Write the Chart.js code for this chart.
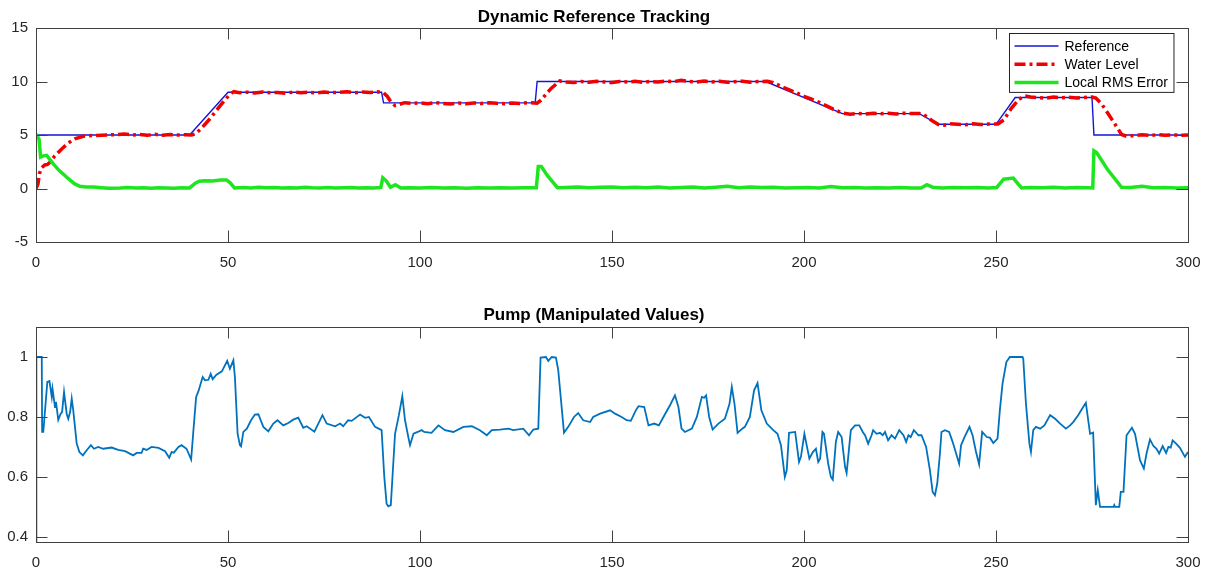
<!DOCTYPE html>
<html>
<head>
<meta charset="utf-8">
<title>Dynamic Reference Tracking</title>
<script src="https://cdn.jsdelivr.net/npm/chart.js@4.4.1/dist/chart.umd.min.js"></script>
<style>
  html, body { margin: 0; padding: 0; background: #fff; }
  .panel { position: absolute; left: 0; width: 1213px; }
  #topPanel { top: 0; height: 285px; }
  #pumpPanel { top: 285px; height: 286px; }
</style>
</head>
<body>
<div class="panel" id="topPanel"><canvas id="trackChart"></canvas></div>
<div class="panel" id="pumpPanel"><canvas id="pumpChart"></canvas></div>
<script>
/* two stacked MATLAB-style subplots: tracking + pump signal */

// ── DATA ───────────────────────────────────────────────────────
const xTicks     = [0, 50, 100, 150, 200, 250, 300];
const trackTicks = [-5, 0, 5, 10, 15];
const pumpTicks  = [0.4, 0.6, 0.8, 1];

const seriesNames = ['Reference', 'Water Level', 'Local RMS Error'];

// reference set-point (breakpoints of the piecewise profile)
const timeRef  = [0, 40, 50, 90, 90.5, 130, 130.5, 190, 210, 230, 235, 250, 255, 275, 275.5, 300];
const refLevel = [5, 5, 9, 9, 8, 8, 10, 10, 7, 7, 6, 6, 8.5, 8.5, 5, 5];

// measured water level
const timeLevel = [0, 0.5, 0.9, 1.5, 2.3, 3, 3.6, 4.9, 6.7, 8.4, 10.1, 12.3, 14.5, 17, 20, 23, 25, 27, 29, 31, 33, 35, 37, 39,
  40.5, 41.5, 43, 45, 47, 49, 50.5, 51.5, 53, 55, 57, 59, 61, 63, 65, 67, 69, 71, 73, 75, 77, 79, 81, 83, 85, 87, 89,
  90.5, 91.5, 92.5, 93.5, 94.5, 96, 98, 100, 102, 104, 106, 108, 110, 112, 114, 116, 118, 120, 122, 124, 126, 128,
  130.5, 131.5, 134, 136.4, 138, 140, 142, 144, 146, 148, 150, 152, 154, 156, 158, 160, 162, 164, 166, 168, 170, 172,
  174, 176, 178, 180, 182, 184, 186, 188, 190.5, 192, 194, 196, 198, 200, 202, 204, 206, 208, 210, 212, 214, 216, 218,
  220, 222, 224, 226, 228, 230, 231, 232, 233.5, 235, 236.5, 238, 240, 242, 244, 246, 248, 250.5, 252, 254, 256, 257.5,
  259, 261, 263, 265, 267, 269, 271, 273, 275, 276, 277.5, 279, 281, 282.7, 284, 286, 288, 290, 292, 294, 296, 298, 300];
const waterLevel = [0, 0.4, 1.4, 1.95, 2.2, 2.25, 2.45, 3.05, 3.7, 4.25, 4.65, 4.88, 4.95, 4.98, 5.02, 5.1, 5.0, 5.05, 4.97, 5.06, 4.98, 5.04, 5.0, 5.02,
  5.0, 5.1, 5.6, 6.4, 7.3, 8.2, 8.8, 9.05, 8.95, 9.0, 8.92, 9.02, 8.95, 8.98, 8.9, 9.02, 8.94, 9.0, 8.92, 9.02, 8.96, 8.98, 9.03, 8.95, 9.02, 8.98, 9.03,
  8.95, 8.6, 8.05, 7.75, 7.85, 8.02, 7.95, 8.0, 7.92, 8.03, 7.95, 7.9, 7.98, 7.92, 8.0, 7.94, 8.02, 7.96, 7.92, 8.0, 7.95, 8.02,
  7.98, 8.25, 9.3, 10.05, 9.95, 9.9, 10.0, 9.92, 10.02, 9.95, 9.9, 10.0, 9.95, 10.02, 9.93, 10.0, 9.96, 10.05, 9.98, 10.12, 10.0, 9.95,
  10.04, 9.96, 10.02, 9.92, 9.98, 10.03, 9.94, 10.0, 10.02, 9.9, 9.55, 9.25, 8.95, 8.6, 8.35, 8.05, 7.7, 7.35, 7.05, 6.95, 7.02, 6.95, 7.04,
  6.98, 7.03, 6.96, 7.04, 7.0, 7.02, 6.95, 6.7, 6.3, 5.98, 5.92, 6.05, 6.0, 5.95, 6.04, 5.98, 6.02, 6.03, 6.4, 7.5, 8.35, 8.65,
  8.55, 8.5, 8.45, 8.55, 8.48, 8.52, 8.45, 8.5, 8.55, 8.45, 7.9, 7.1, 6.0, 5.05, 4.88, 4.95, 5.02, 4.96, 5.03, 4.97, 5.02, 4.98, 5.0];

// local RMS tracking error
const timeErr = [0, 0.8, 1.2, 1.9, 2.8, 4.5, 6, 8, 10, 11.4, 13, 15, 17, 19, 22, 24, 26, 28, 30, 32, 34, 36, 38, 40,
  41.5, 42.5, 44, 46, 48, 49.6, 50.5, 51.7, 54, 56, 58, 60, 62, 64, 66, 68, 70, 72, 74, 76, 78, 80, 82, 84, 86, 88,
  89.8, 90.3, 91.2, 92.3, 93.6, 95, 97, 100, 103, 106, 109, 112, 115, 118, 121, 124, 127, 130.3, 130.8, 131.6, 133.2,
  135.8, 138, 141, 144, 147, 150, 153, 156, 159, 162, 165, 168, 171, 174, 177, 180, 183, 186, 189, 192, 195, 198, 201,
  204, 207, 210, 213, 216, 219, 222, 225, 228, 230.5, 232, 233.5, 236, 239, 242, 245, 248, 250.2, 252, 254.5, 255.8,
  256.7, 259, 262, 265, 268, 271, 274, 275.2, 275.5, 276.2, 279, 282.7, 285, 288, 291, 294, 297, 300];
const rmsError = [5.1, 4.6, 2.95, 3.05, 3.1, 2.3, 1.7, 1.05, 0.45, 0.2, 0.15, 0.14, 0.08, 0.03, 0.05, 0.1, 0.04, 0.06, 0.02, 0.07, 0.05, 0.03, 0.06, 0.05,
  0.5, 0.68, 0.72, 0.7, 0.8, 0.8, 0.55, 0.05, 0.1, 0.05, 0.12, 0.06, 0.1, 0.05, 0.08, 0.04, 0.12, 0.06, 0.04, 0.1, 0.05, 0.08, 0.1, 0.04, 0.08, 0.05,
  0.1, 1.0, 0.72, 0.12, 0.35, 0.05, 0.08, 0.05, 0.1, 0.04, 0.06, 0.02, 0.07, 0.05, 0.08, 0.05, 0.07, 0.06, 2.05, 2.05, 1.2,
  0.08, 0.1, 0.15, 0.08, 0.12, 0.15, 0.06, 0.12, 0.08, 0.15, 0.05, 0.1, 0.15, 0.05, 0.12, 0.2, 0.08, 0.15, 0.1, 0.12, 0.05, 0.08, 0.1,
  0.05, 0.18, 0.06, 0.1, 0.05, 0.08, 0.04, 0.1, 0.05, 0.05, 0.35, 0.12, 0.05, 0.1, 0.06, 0.1, 0.05, 0.1, 0.87, 0.97, 0.4,
  0.05, 0.1, 0.06, 0.12, 0.05, 0.1, 0.06, 0.05, 3.52, 3.36, 1.8, 0.12, 0.1, 0.2, 0.06, 0.1, 0.05, 0.08];

// pump manipulated value
const timePump = [0, 0.1, 1.5, 1.6, 1.9, 2.95, 3.5, 4.1, 4.3, 4.95, 5.2, 5.8, 6.4, 6.8, 7.3, 8.0, 8.4, 8.9, 9.3, 9.7,
  10.6, 11.3, 12.2, 13.2, 14.3, 15.1, 16.2, 17.5, 19.7, 21.4, 23.2, 25.3, 26.2, 27.5, 27.9, 28.8, 30.1, 31.9, 33.6,
  34.7, 35.3, 35.9, 37.1, 37.9, 39.2, 40.4, 41, 41.7, 42.3, 43.4, 44, 44.9, 45.5, 46, 47, 48.4, 49.8, 50.5, 51.4, 51.8,
  52.5, 53.1, 53.4, 54, 54.9, 56, 57, 57.9, 59.2, 60.5, 61.8, 62.9, 64.4, 65.7, 67, 68.3, 69.6, 70.5, 72.5, 74.6, 75.7,
  77.9, 79.2, 80, 81.3, 82.2, 84.4, 85.7, 86.7, 88.3, 90, 90.7, 91.3, 91.75, 92.4, 93.5, 94.5, 95.4, 96.1, 96.96, 97.4,
  98.3, 99.4, 100.4, 101.1, 103, 104.8, 106.5, 108.7, 111.3, 113.5, 115.6, 117.4, 118.7, 120.8, 123, 124.3, 126.9,
  128.4, 129.5, 130.8, 131.4, 132.8, 133.4, 134.3, 135.4, 136, 137.5, 138.6, 140.1, 141.2, 142.5, 144.3, 145.1, 146.9,
  149.5, 150.8, 152.5, 153.8, 154.9, 156.2, 156.9, 158.4, 159.5, 161, 162.2, 163.4, 165.1, 166.4, 167.3, 168.1, 169,
  170.8, 172.1, 173.4, 174, 174.5, 175.3, 176.2, 177.7, 179.4, 180.6, 181.2, 181.9, 182.7, 183.9, 184.6, 185.9, 187,
  187.9, 188.9, 190.3, 192, 193.1, 194, 195, 195.5, 196.1, 197.7, 198.7, 199.2, 200.1, 201.4, 202.3, 203.1, 203.7,
  204.2, 204.8, 205.2, 206.3, 207, 207.5, 208.3, 208.9, 209.8, 210.7, 211.1, 212.2, 213.3, 214.4, 215.3, 215.9, 216.7,
  217.6, 218, 218.9, 219.8, 220.5, 221.1, 221.9, 222.8, 223.7, 224.8, 225.9, 226.6, 227.2, 227.8, 228.6, 229.8, 230.6,
  231.8, 232.8, 233.5, 234.1, 234.7, 235.4, 235.8, 236.7, 237.8, 238.7, 239.5, 240.4, 240.9, 241.8, 243.1, 243.9,
  244.8, 245.6, 246.4, 247.6, 248.4, 249.3, 250.4, 251, 251.7, 252.7, 253.6, 256.9, 257.1, 257.8, 258.7, 259.1, 259.7,
  260.4, 261.5, 262.6, 264.1, 265.4, 266.7, 268.2, 269.3, 270.1, 271.4, 272.7, 273.4, 274.5, 275.3, 276, 276.5, 277.1,
  280.6, 280.8, 281, 282.1, 282.5, 283.2, 284, 285.4, 286.2, 287.5, 288.5, 289.2, 290.1, 291, 291.8, 292.5, 293.4,
  294.3, 294.9, 295.5, 296, 296.9, 297.9, 299.2, 300];
const pumpValue = [0.383, 1.0, 1.0, 0.75, 0.75, 0.917, 0.92, 0.867, 0.894, 0.833, 0.85, 0.79, 0.81, 0.817, 0.883, 0.81, 0.794, 0.817, 0.861, 0.822,
  0.711, 0.683, 0.672, 0.689, 0.706, 0.694, 0.7, 0.694, 0.698, 0.69, 0.686, 0.672, 0.68, 0.68, 0.694, 0.69, 0.7, 0.697, 0.686,
  0.664, 0.683, 0.681, 0.7, 0.706, 0.694, 0.658, 0.756, 0.867, 0.886, 0.933, 0.922, 0.924, 0.944, 0.926, 0.941, 0.952, 0.987, 0.961, 0.989, 0.933,
  0.744, 0.706, 0.702, 0.75, 0.761, 0.789, 0.808, 0.809, 0.767, 0.752, 0.778, 0.789, 0.772, 0.78, 0.791, 0.798, 0.764, 0.769, 0.751, 0.806, 0.778,
  0.769, 0.778, 0.769, 0.789, 0.787, 0.808, 0.797, 0.8, 0.767, 0.756, 0.6, 0.511, 0.502, 0.506, 0.744, 0.806, 0.869, 0.789, 0.733, 0.706,
  0.744, 0.75, 0.756, 0.75, 0.747, 0.772, 0.756, 0.75, 0.767, 0.769, 0.756, 0.739, 0.756, 0.758, 0.761, 0.756, 0.761,
  0.739, 0.758, 0.761, 0.998, 1.0, 0.987, 1.0, 0.998, 0.956, 0.747, 0.767, 0.8, 0.813, 0.789, 0.783, 0.8, 0.811,
  0.822, 0.811, 0.8, 0.789, 0.787, 0.822, 0.836, 0.833, 0.772, 0.778, 0.772, 0.8, 0.839, 0.872, 0.833, 0.761, 0.75,
  0.761, 0.8, 0.867, 0.864, 0.872, 0.8, 0.758, 0.778, 0.794, 0.844, 0.9, 0.844, 0.747, 0.761, 0.767, 0.8, 0.889,
  0.913, 0.822, 0.778, 0.756, 0.744, 0.706, 0.6, 0.622, 0.747, 0.75, 0.65, 0.667, 0.744, 0.661, 0.683, 0.694, 0.65,
  0.661, 0.75, 0.744, 0.644, 0.6, 0.591, 0.717, 0.75, 0.733, 0.633, 0.613, 0.756, 0.772, 0.772, 0.75, 0.739, 0.711,
  0.739, 0.756, 0.744, 0.747, 0.739, 0.75, 0.722, 0.739, 0.728, 0.756, 0.739, 0.717, 0.739, 0.733, 0.756, 0.739, 0.739,
  0.7, 0.622, 0.55, 0.539, 0.578, 0.678, 0.75, 0.756, 0.75, 0.717, 0.683, 0.644, 0.706, 0.733, 0.767, 0.739,
  0.683, 0.642, 0.75, 0.733, 0.731, 0.713, 0.728, 0.822, 0.911, 0.983, 1.0, 1.0, 0.994, 0.844, 0.711, 0.683, 0.756,
  0.767, 0.761, 0.772, 0.806, 0.794, 0.778, 0.761, 0.772, 0.783, 0.806, 0.833, 0.847, 0.744, 0.748, 0.506, 0.556, 0.5,
  0.5, 0.506, 0.5, 0.5, 0.55, 0.55, 0.739, 0.764, 0.744, 0.656, 0.628, 0.678, 0.725, 0.703, 0.694, 0.678, 0.703,
  0.68, 0.7, 0.698, 0.722, 0.711, 0.697, 0.667, 0.683];

// ── STYLE ──────────────────────────────────────────────────────
const AXIS_COLOR = '#404040';
const TEXT_COLOR = '#262626';
const TICK_LEN   = 11.5;
const PLOT_LEFT  = 36;
const PLOT_RIGHT_PAD = 25;

Chart.defaults.font.family = '"Liberation Sans", Arial, Helvetica, sans-serif';
Chart.defaults.color = TEXT_COLOR;

const toPoints = (xs, ys) => xs.map((x, i) => ({ x, y: ys[i] }));

// inward tick marks on all four sides + box (MATLAB look)
const matlabBox = {
  id: 'matlabBox',
  afterDatasetsDraw(chart) {
    const { ctx, chartArea: a, scales } = chart;
    ctx.save();
    ctx.strokeStyle = AXIS_COLOR;
    ctx.lineWidth = 1;
    ctx.beginPath();
    scales.x.ticks.forEach(t => {
      const px = Math.round(scales.x.getPixelForValue(t.value)) + 0.5;
      ctx.moveTo(px, a.bottom); ctx.lineTo(px, a.bottom - TICK_LEN);
      ctx.moveTo(px, a.top);    ctx.lineTo(px, a.top + TICK_LEN);
    });
    scales.y.ticks.forEach(t => {
      const py = Math.round(scales.y.getPixelForValue(t.value)) + 0.5;
      ctx.moveTo(a.left, py);  ctx.lineTo(a.left + TICK_LEN, py);
      ctx.moveTo(a.right, py); ctx.lineTo(a.right - TICK_LEN, py);
    });
    ctx.stroke();
    ctx.strokeRect(Math.round(a.left) + 0.5, Math.round(a.top) + 0.5,
                   Math.round(a.right - a.left), Math.round(a.bottom - a.top));
    ctx.restore();
  },
};

// legend box inside the plot, top right
const insideLegend = {
  id: 'insideLegend',
  afterDraw(chart) {
    const { ctx, chartArea: a } = chart;
    const sets = chart.data.datasets;
    ctx.save();
    ctx.font = '14px ' + Chart.defaults.font.family;
    const textW = Math.max(...sets.map(d => ctx.measureText(d.label).width));
    const lineLen = 44, rowH = 18.3;
    const w = 5 + lineLen + 6 + textW + 6;
    const h = sets.length * rowH + 4;
    const x0 = Math.round(a.right - 15 - w) + 0.5;
    const y0 = Math.round(a.top + 5) + 0.5;
    ctx.fillStyle = '#fff';
    ctx.fillRect(x0, y0, w, h);
    ctx.strokeStyle = '#262626';
    ctx.lineWidth = 1;
    ctx.strokeRect(x0, y0, w, h);
    sets.forEach((d, i) => {
      const cy = y0 + 12.5 + i * rowH;
      ctx.beginPath();
      ctx.strokeStyle = d.borderColor;
      ctx.lineWidth = d.borderWidth;
      ctx.setLineDash(d.borderDash || []);
      ctx.moveTo(x0 + 5, cy);
      ctx.lineTo(x0 + 5 + lineLen, cy);
      ctx.stroke();
      ctx.setLineDash([]);
      ctx.fillStyle = '#000';
      ctx.textBaseline = 'middle';
      ctx.fillText(d.label, x0 + 5 + lineLen + 6, cy + 1);
    });
    ctx.restore();
  },
};

function axisOptions(ticks, min, max, isX, size) {
  return {
    type: 'linear',
    min, max,
    grid: { display: false, drawTicks: false },
    border: { display: false },
    afterBuildTicks: axis => { axis.ticks = ticks.map(v => ({ value: v })); },
    afterFit: axis => { if (isX) axis.height = size; else axis.width = size; },
    ticks: {
      autoSkip: false, maxRotation: 0,
      padding: isX ? 12 : 8,
      font: { size: 15 },
      color: TEXT_COLOR,
      callback: v => String(+v.toFixed(2)),
    },
  };
}

function titleOptions(text, top, bottom) {
  return {
    display: true, text, color: '#000',
    font: { size: 17, weight: 'bold', lineHeight: 1.2 },
    padding: { top, bottom },
  };
}

// ── TRACKING CHART ─────────────────────────────────────────────
new Chart(document.getElementById('trackChart'), {
  type: 'line',
  data: {
    datasets: [
      {
        label: seriesNames[0],
        data: toPoints(timeRef, refLevel),
        borderColor: '#1414d8', borderWidth: 1.4,
        pointRadius: 0, tension: 0, order: 3,
      },
      {
        label: seriesNames[1],
        data: toPoints(timeLevel, waterLevel),
        borderColor: '#f00000', borderWidth: 3.5,
        borderDash: [11, 4, 3, 4],
        pointRadius: 0, tension: 0, order: 2,
      },
      {
        label: seriesNames[2],
        data: toPoints(timeErr, rmsError),
        borderColor: '#1ee61e', borderWidth: 3.5,
        pointRadius: 0, tension: 0, order: 1,
      },
    ],
  },
  options: {
    responsive: true,
    maintainAspectRatio: false,
    animation: false,
    layout: { padding: { left: 0, right: PLOT_RIGHT_PAD, top: 0, bottom: 0 } },
    plugins: {
      legend: { display: false },
      tooltip: { enabled: false },
      title: titleOptions('Dynamic Reference Tracking', 6.8, 0.8),
    },
    scales: {
      x: axisOptions(xTicks, 0, 300, true, 43),
      y: axisOptions(trackTicks, -5, 15, false, PLOT_LEFT),
    },
  },
  plugins: [matlabBox, insideLegend],
});

// ── PUMP CHART ─────────────────────────────────────────────────
new Chart(document.getElementById('pumpChart'), {
  type: 'line',
  data: {
    datasets: [{
      label: 'Pump',
      data: toPoints(timePump, pumpValue),
      borderColor: '#0072bd', borderWidth: 1.8,
      pointRadius: 0, tension: 0,
    }],
  },
  options: {
    responsive: true,
    maintainAspectRatio: false,
    animation: false,
    layout: { padding: { left: 0, right: PLOT_RIGHT_PAD, top: 0, bottom: 0 } },
    plugins: {
      legend: { display: false },
      tooltip: { enabled: false },
      title: titleOptions('Pump (Manipulated Values)', 20.3, 1.3),
    },
    scales: {
      x: axisOptions(xTicks, 0, 300, true, 29),
      y: axisOptions(pumpTicks, 0.383, 1.1, false, PLOT_LEFT),
    },
  },
  plugins: [matlabBox],
});
</script>
</body>
</html>
